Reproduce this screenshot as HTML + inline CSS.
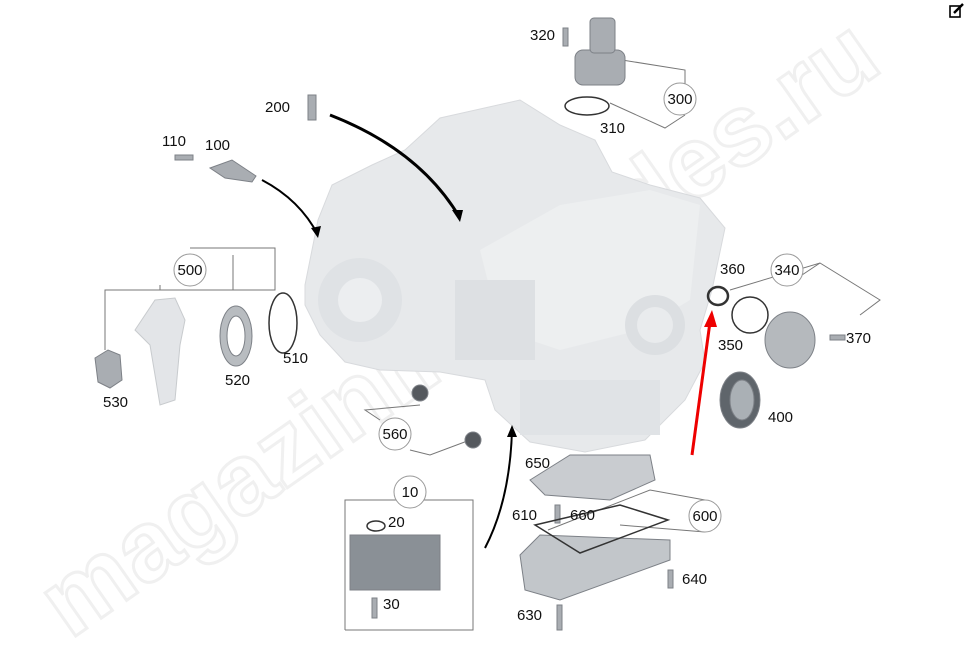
<!DOCTYPE html>
<html><head><meta charset="utf-8"><style>
html,body{margin:0;padding:0;background:#fff;}
svg{display:block;font-family:"Liberation Sans",sans-serif;}
</style></head><body>
<svg width="967" height="656" viewBox="0 0 967 656" xmlns="http://www.w3.org/2000/svg">
<rect width="967" height="656" fill="#fff"/>
<!-- watermark -->
<text x="0" y="0" transform="translate(70,640) rotate(-35)" font-size="100" font-weight="bold" fill="none" stroke="#f0f0f0" stroke-width="3">magazinmercedes.ru</text>
<!-- transmission body -->
<path d="M305,285 L318,220 L332,185 L372,165 L405,150 L440,118 L520,100 L560,125 L595,140 L612,172 L650,185 L700,198 L725,228 L712,290 L700,330 L705,362 L685,400 L645,440 L585,452 L530,442 L495,410 L485,380 L440,372 L380,370 L345,362 L320,335 L305,305 Z" fill="#e7e9eb" stroke="#d8dadd"/>
<path d="M480,250 L560,205 L650,190 L700,205 L690,300 L640,330 L560,350 L500,330 Z" fill="#edeff0"/>
<circle cx="360" cy="300" r="42" fill="#dfe2e5"/>
<circle cx="360" cy="300" r="22" fill="#eceef0"/>
<circle cx="655" cy="325" r="30" fill="#dcdfe2"/>
<circle cx="655" cy="325" r="18" fill="#e9ebed"/>
<rect x="455" y="280" width="80" height="80" fill="#dde0e3"/>
<rect x="520" y="380" width="140" height="55" fill="#e0e3e6"/>
<!-- arrows -->
<path d="M330,115 Q420,150 460,218" fill="none" stroke="#000" stroke-width="3"/>
<polygon points="460,222 452,210 463,210" fill="#000"/>
<path d="M262,180 Q300,200 318,235" fill="none" stroke="#000" stroke-width="2"/>
<polygon points="318,238 311,228 321,226" fill="#000"/>
<path d="M485,548 Q510,500 512,430" fill="none" stroke="#000" stroke-width="2"/>
<polygon points="512,425 507,437 517,437" fill="#000"/>
<line x1="692" y1="455" x2="710" y2="322" stroke="#e00" stroke-width="3"/>
<polygon points="712,310 704,327 717,327" fill="#e00"/>
<!-- connector lines -->
<g fill="none" stroke="#777" stroke-width="1">
<polyline points="105,350 105,290 275,290 275,248 190,248"/>
<line x1="233" y1="255" x2="233" y2="290"/>
<line x1="160" y1="285" x2="160" y2="290"/>
<polyline points="622,60 685,70 685,84"/><polyline points="610,103 665,128 685,115"/>
<polyline points="730,290 820,263 880,300 860,315"/><line x1="802" y1="275" x2="820" y2="263"/>
<polyline points="420,405 365,410 380,420"/><polyline points="410,450 430,455 470,440"/>
<polyline points="345,630 345,500 473,500 473,630 345,630"/><line x1="410" y1="508" x2="410" y2="500"/>
<polyline points="548,530 650,490 705,500"/><polyline points="620,525 705,532"/>
</g>
<!-- label circles -->
<g fill="#fff" stroke="#999">
<circle cx="190" cy="270" r="16"/><circle cx="680" cy="99" r="16"/><circle cx="787" cy="270" r="16"/>
<circle cx="395" cy="434" r="16"/><circle cx="410" cy="492" r="16"/><circle cx="705" cy="516" r="16"/>
</g>
<!-- parts -->
<g fill="#a9adb2" stroke="#7d8187">
<rect x="575" y="50" width="50" height="35" rx="8"/><rect x="590" y="18" width="25" height="35" rx="4"/>
<rect x="563" y="28" width="5" height="18"/>
<rect x="308" y="95" width="8" height="25"/>
<rect x="175" y="155" width="18" height="5"/>
<path d="M210,168 L232,160 L256,176 L252,182 L225,178 Z"/>
<path d="M155,300 L175,298 L185,320 L180,345 L175,400 L160,405 L150,345 L135,330 Z" fill="#e3e5e8" stroke="#c8cbce"/>
<ellipse cx="236" cy="336" rx="16" ry="30" fill="#b8bcc0"/><ellipse cx="236" cy="336" rx="9" ry="20" fill="#fff"/>
<polygon points="95,358 108,350 120,355 122,380 110,388 98,382"/>
<ellipse cx="790" cy="340" rx="25" ry="28" fill="#b5b9bd"/>
<rect x="830" y="335" width="15" height="5"/>
<ellipse cx="740" cy="400" rx="20" ry="28" fill="#5f656b"/><ellipse cx="742" cy="400" rx="12" ry="20" fill="#aab0b5"/>
<circle cx="420" cy="393" r="8" fill="#55595e"/><circle cx="473" cy="440" r="8" fill="#55595e"/>
<path d="M530,480 L570,455 L650,455 L655,480 L610,500 L545,495 Z" fill="#c9ccd0"/>
<rect x="350" y="535" width="90" height="55" fill="#8a9096"/>
<path d="M520,555 L540,535 L670,540 L670,560 L560,600 L525,590 Z" fill="#c2c6ca"/>
<rect x="557" y="605" width="5" height="25"/><rect x="372" y="598" width="5" height="20"/>
<rect x="668" y="570" width="5" height="18"/><rect x="555" y="505" width="5" height="18"/>
</g>
<g fill="none" stroke="#333" stroke-width="1.5">
<ellipse cx="587" cy="106" rx="22" ry="9"/><ellipse cx="283" cy="323" rx="14" ry="30"/>
<ellipse cx="718" cy="296" rx="10" ry="9" stroke-width="2.5"/><ellipse cx="750" cy="315" rx="18" ry="18"/>
<ellipse cx="376" cy="526" rx="9" ry="5"/>
<path d="M535,525 L620,505 L668,520 L580,553 Z"/>
</g>
<!-- labels -->
<g font-size="15" fill="#111" dominant-baseline="middle">
<text x="530" y="36">320</text><text x="600" y="129">310</text><text x="265" y="108">200</text>
<text x="162" y="142">110</text><text x="205" y="146">100</text>
<text x="720" y="270">360</text><text x="718" y="346">350</text><text x="846" y="339">370</text><text x="768" y="418">400</text>
<text x="283" y="359">510</text><text x="225" y="381">520</text><text x="103" y="403">530</text>
<text x="525" y="464">650</text><text x="512" y="516">610</text><text x="570" y="516">660</text>
<text x="388" y="523">20</text><text x="383" y="605">30</text><text x="682" y="580">640</text><text x="517" y="616">630</text>
</g>
<g font-size="15" fill="#111" text-anchor="middle" dominant-baseline="middle">
<text x="190" y="271">500</text><text x="680" y="100">300</text><text x="787" y="271">340</text>
<text x="395" y="435">560</text><text x="410" y="493">10</text><text x="705" y="517">600</text>
</g>
<!-- edit icon -->
<rect x="950" y="6" width="10" height="11" fill="none" stroke="#000" stroke-width="1.6"/>
<line x1="954" y1="13" x2="963" y2="4" stroke="#000" stroke-width="2.5"/>
</svg>
</body></html>
